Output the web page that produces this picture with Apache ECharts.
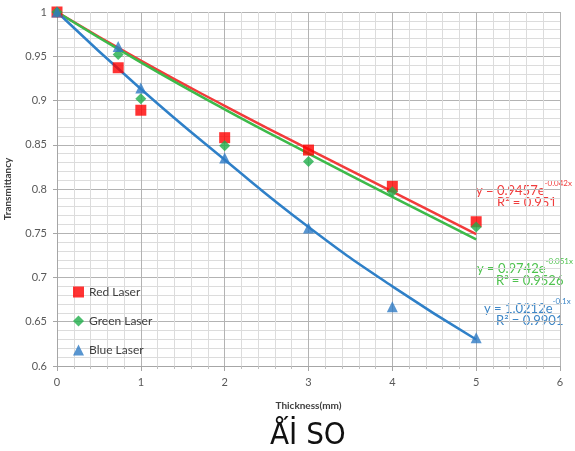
<!DOCTYPE html>
<html>
<head>
<meta charset="utf-8">
<script src="https://cdn.jsdelivr.net/npm/echarts@6/dist/echarts.min.js"></script>
<style>
  html, body { margin: 0; padding: 0; background: #fff; }
  #chart { width: 575px; height: 451px; }
</style>
</head>
<body>
<div id="chart"></div>
<script>
  // measured points (thickness in mm, transmittancy)
  const redX = [0, 0.73, 1, 2, 3, 4, 5]
  const redY = [1.0, 0.937, 0.889, 0.858, 0.844, 0.803, 0.763]
  const greenX = [0, 0.73, 1, 2, 3, 4, 5]
  const greenY = [1.0, 0.952, 0.902, 0.849, 0.831, 0.797, 0.757]
  const blueX = [0, 0.73, 1, 2, 3, 4, 5]
  const blueY = [1.0, 0.961, 0.914, 0.835, 0.756, 0.667, 0.632]

  // trendline points
  const trendX = [0, 1, 2, 3, 4, 5]
  const redTrend = [1.0, 0.945, 0.894, 0.845, 0.797, 0.749]
  const greenTrend = [1.0, 0.943, 0.890, 0.840, 0.791, 0.743]
  const blueTrend = [1.0, 0.913, 0.833, 0.757, 0.690, 0.630]

  const yTicks = [0.6, 0.65, 0.7, 0.75, 0.8, 0.85, 0.9, 0.95, 1]

  const RED = '#ff0000'
  const GREEN = '#1fae4a'
  const BLUE = '#2e7bc4'
  const font = 'Lato, "Open Sans", sans-serif'

  const pairs = (xs, ys) => xs.map((x, i) => [x, ys[i]])

  const chart = echarts.init(document.getElementById('chart'))

  const eq = (x, y, color, main, sup) => ({
    type: 'text',
    left: x,
    top: y,
    style: {
      text: '{m|' + main + '}{s|' + sup + '}',
      fill: color,
      rich: {
        m: { fontSize: 13, fontFamily: font, fill: color, lineHeight: 18, verticalAlign: 'bottom' },
        s: { fontSize: 8, fontFamily: font, fill: color, lineHeight: 18, verticalAlign: 'top' },
      },
    },
  })
  const r2 = (x, y, color, val) => ({
    type: 'text',
    left: x,
    top: y,
    style: { text: 'R² = ' + val, fill: color, fontSize: 13, fontFamily: font },
  })

  chart.setOption({
    animation: false,
    grid: { left: 57, right: 15, top: 12, bottom: 85, outerBoundsMode: 'none', containLabel: false },
    legend: {
      left: 68,
      top: 281,
      orient: 'vertical',
      itemGap: 17,
      itemWidth: 11,
      itemHeight: 11,
      textStyle: { fontFamily: font, fontSize: 12, color: '#404040' },
      data: ['Red Laser', 'Green Laser', 'Blue Laser'],
    },
    xAxis: {
      type: 'value',
      min: 0,
      max: 6,
      interval: 1,
      name: 'Thickness(mm)',
      nameLocation: 'middle',
      nameGap: 35,
      nameTextStyle: { fontFamily: font, fontSize: 10, fontWeight: 'bold', color: '#404040' },
      axisLine: { lineStyle: { color: '#a6a6a6' } },
      axisTick: { show: true, length: 5, lineStyle: { color: '#a6a6a6' } },
      minorTick: { show: true, splitNumber: 5, length: 3, lineStyle: { color: '#bfbfbf' } },
      axisLabel: { fontFamily: font, fontSize: 11, color: '#595959', margin: 11 },
      splitLine: { show: true, lineStyle: { color: '#b3b3b3', width: 1 } },
      minorSplitLine: { show: true, lineStyle: { color: '#dcdcdc', width: 1 } },
    },
    yAxis: {
      type: 'value',
      min: 0.6,
      max: 1,
      interval: 0.05,
      name: 'Transmittancy',
      nameLocation: 'middle',
      nameGap: 44,
      nameTextStyle: { fontFamily: font, fontSize: 10, fontWeight: 'bold', color: '#404040' },
      axisLine: { show: true, lineStyle: { color: '#a6a6a6' } },
      axisTick: { show: true, length: 4, lineStyle: { color: '#a6a6a6' } },
      minorTick: { show: false },
      axisLabel: {
        fontFamily: font,
        fontSize: 11,
        color: '#595959',
        margin: 10,
        formatter: (v) => {
          const t = yTicks.find((k) => Math.abs(k - v) < 1e-6)
          return t === undefined ? '' : String(t)
        },
      },
      splitLine: { show: true, lineStyle: { color: '#b3b3b3', width: 1 } },
      minorSplitLine: { show: true, lineStyle: { color: '#dcdcdc', width: 1 } },
    },
    graphic: [
      eq(476, 179, '#f03c3c', 'y = 0.9457e', '-0.042x'),
      r2(497, 196, '#f03c3c', '0.951'),
      eq(477, 257, '#4ec24e', 'y = 0.9742e', '-0.051x'),
      r2(496, 274, '#4ec24e', '0.9526'),
      eq(484, 297, '#3d86c6', 'y = 1.0212e', '-0.1x'),
      r2(496, 314, '#3d86c6', '0.9901'),
      {
        type: 'text',
        left: 270,
        top: 420,
        style: { text: 'Ǻİ SO', fontSize: 31, fontFamily: '"Liberation Sans Narrow", "DejaVu Sans Condensed", sans-serif', fill: '#111' },
      },
    ],
    series: [
      {
        name: 'Red trend',
        type: 'line',
        smooth: true,
        symbol: 'none',
        lineStyle: { color: '#f23b3b', width: 2.5 },
        data: pairs(trendX, redTrend),
        z: 2,
      },
      {
        name: 'Green trend',
        type: 'line',
        smooth: true,
        symbol: 'none',
        lineStyle: { color: '#3dba4a', width: 2.5 },
        data: pairs(trendX, greenTrend),
        z: 2,
      },
      {
        name: 'Blue trend',
        type: 'line',
        smooth: true,
        symbol: 'none',
        lineStyle: { color: '#2f80c8', width: 2.5 },
        data: pairs(trendX, blueTrend),
        z: 2,
      },
      {
        name: 'Red Laser',
        type: 'scatter',
        symbol: 'rect',
        symbolSize: 11,
        itemStyle: { color: RED },
        data: pairs(redX, redY),
        z: 3,
      },
      {
        name: 'Green Laser',
        type: 'scatter',
        symbol: 'diamond',
        symbolSize: 11,
        itemStyle: { color: GREEN },
        data: pairs(greenX, greenY),
        z: 4,
      },
      {
        name: 'Blue Laser',
        type: 'scatter',
        symbol: 'triangle',
        symbolSize: 11,
        itemStyle: { color: BLUE },
        data: pairs(blueX, blueY),
        z: 4,
      },
    ],
  })
</script>
</body>
</html>
